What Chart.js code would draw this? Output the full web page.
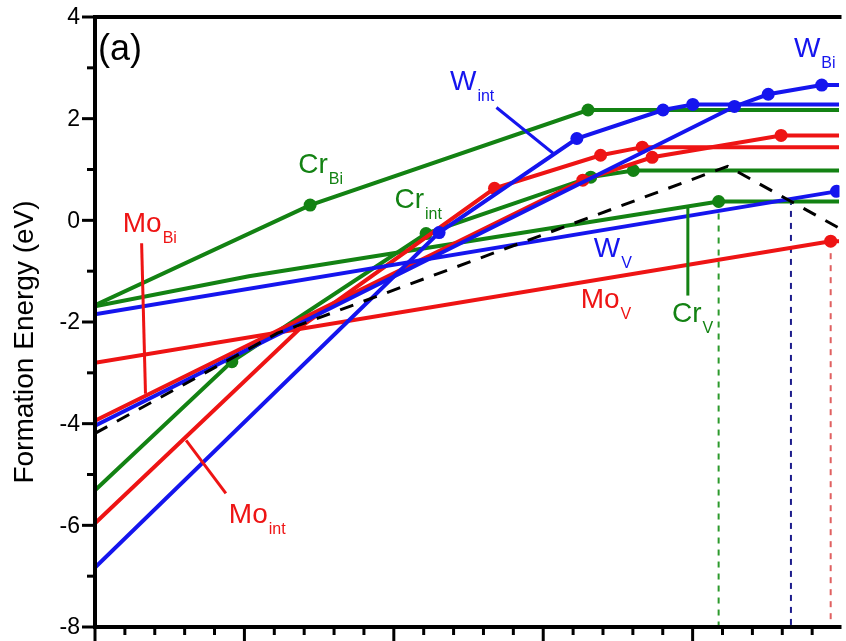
<!DOCTYPE html>
<html>
<head>
<meta charset="utf-8">
<script src="https://cdn.jsdelivr.net/npm/chart.js@4.4.1/dist/chart.umd.min.js"></script>
<style>
  html, body { margin: 0; padding: 0; background: #fff; overflow: hidden; }
  #wrap { width: 846px; height: 641px; position: relative; }
  canvas { display: block; }
</style>
</head>
<body>
<div id="wrap"><canvas id="chart" width="846" height="641"></canvas></div>
<script>
// x is in major-tick units (the x tick labels are cropped off the figure)
const crBi  = [[0, -1.67], [1.44, 0.30], [3.30, 2.17], [4.98, 2.17]];
const crInt = [[0, -5.31], [0.916, -2.78], [2.216, -0.26], [3.318, 0.85], [3.603, 0.98], [4.98, 0.98]];
const crV   = [[0, -1.69], [1.03, -1.10], [4.174, 0.37], [4.98, 0.37]];
const moBi  = [[0, -3.94], [3.265, 0.79], [3.729, 1.24], [4.592, 1.67], [4.98, 1.67]];
const moInt = [[0, -5.96], [1.407, -2.03], [2.674, 0.63], [3.384, 1.28], [3.663, 1.44], [4.98, 1.44]];
const moV   = [[0, -2.80], [4.924, -0.41], [4.98, -0.41]];
const wBi   = [[0, -4.04], [4.28, 2.24], [4.506, 2.48], [4.864, 2.66], [4.98, 2.66]];
const wInt  = [[0, -6.83], [2.303, -0.24], [3.225, 1.61], [3.802, 2.17], [4.001, 2.28], [4.98, 2.28]];
const wV    = [[0, -1.85], [4.963, 0.57]];
const envelope = [[0, -4.19], [1.221, -2.22], [4.234, 1.063], [4.983, -0.157]];

// which points carry a dot
const crBiDots = [1, 2];
const crIntDots = [1, 2, 3, 4];
const crVDots = [2];
const moBiDots = [1, 2, 3];
const moIntDots = [2, 3, 4];
const moVDots = [1];
const wBiDots = [1, 2, 3];
const wIntDots = [1, 2, 3, 4];
const wVDots = [1];

const yMajor = [4, 2, 0, -2, -4, -6, -8];
const yMinor = [3, 1, -1, -3, -5, -7];
const xMajor = [0, 1, 2, 3, 4];
const xMinor = [0.2, 0.4, 0.6, 0.8, 1.2, 1.4, 1.6, 1.8, 2.2, 2.4, 2.6, 2.8, 3.2, 3.4, 3.6, 3.8, 4.2, 4.4, 4.6, 4.8];

const GREEN = '#138213';
const RED = '#ee1414';
const BLUE = '#1515ee';
const FONT = '"Liberation Sans", Arial, sans-serif';

function pts(arr) {
    return arr.map(p => ({ x: p[0], y: p[1] }));
}

function series(arr, dots, color, order) {
    return {
        data: pts(arr),
        showLine: true,
        borderColor: color,
        backgroundColor: color,
        borderWidth: 4,
        pointRadius: ctx => dots.includes(ctx.dataIndex) ? 6.5 : 0,
        pointHoverRadius: 0,
        pointBorderWidth: 0,
        tension: 0,
        order: order
    };
}

// drop lines from the vacancy transition points down to the axis
function dropLine(p, color) {
    return {
        data: [{ x: p[0], y: p[1] }, { x: p[0], y: -8 }],
        showLine: true,
        borderColor: color,
        borderWidth: 2,
        borderDash: [6, 6],
        pointRadius: 0,
        order: 6
    };
}

// the W_V line crosses the Cr_V plateau here
const wVCross = [4.658, wV[0][1] + (wV[1][1] - wV[0][1]) * 4.658 / wV[1][0]];

// label annotations: main text, subscript, colour, data position of text start
const labelNames = [
    ['Cr', 'Bi', GREEN, 1.360, 0.925],
    ['W', 'int', BLUE, 2.376, 2.559],
    ['W', 'Bi', BLUE, 4.678, 3.209],
    ['Mo', 'Bi', RED, 0.186, -0.236],
    ['Cr', 'int', GREEN, 2.004, 0.236],
    ['W', 'V', BLUE, 3.338, -0.728],
    ['Mo', 'V', RED, 3.251, -1.732],
    ['Cr', 'V', GREEN, 3.862, -2.008],
    ['Mo', 'int', RED, 0.896, -5.945]
];
// leader lines from labels to curves
const leaders = [
    [RED, 0.312, -0.45, 0.338, -3.41],
    [RED, 0.610, -4.33, 0.876, -5.37],
    [BLUE, 2.687, 2.22, 3.066, 1.32],
    [GREEN, 3.968, 0.26, 3.968, -1.48]
];

const decor = {
    id: 'decor',
    afterDatasetsDraw(chart) {
        const c = chart.ctx;
        const xs = chart.scales.x, ys = chart.scales.y;
        const a = chart.chartArea;
        c.save();

        // leader lines
        c.lineWidth = 3;
        leaders.forEach(l => {
            c.strokeStyle = l[0];
            c.beginPath();
            c.moveTo(xs.getPixelForValue(l[1]), ys.getPixelForValue(l[2]));
            c.lineTo(xs.getPixelForValue(l[3]), ys.getPixelForValue(l[4]));
            c.stroke();
        });

        // labels with subscripts
        c.textBaseline = 'alphabetic';
        c.textAlign = 'left';
        labelNames.forEach(l => {
            const px = xs.getPixelForValue(l[3]);
            const py = ys.getPixelForValue(l[4]);
            c.fillStyle = l[2];
            c.font = '28px ' + FONT;
            c.fillText(l[0], px, py);
            const w = c.measureText(l[0]).width;
            c.font = '16px ' + FONT;
            c.fillText(l[1], px + w + 1, py + 11);
        });

        // frame
        c.strokeStyle = '#000';
        c.lineWidth = 4;
        c.beginPath();
        c.moveTo(a.right + 2, a.top);
        c.lineTo(a.left, a.top);
        c.lineTo(a.left, a.bottom);
        c.lineTo(a.right + 2, a.bottom);
        c.stroke();

        // ticks
        c.lineWidth = 3;
        yMajor.forEach(v => {
            const py = ys.getPixelForValue(v);
            c.beginPath(); c.moveTo(a.left - 13, py); c.lineTo(a.left, py); c.stroke();
        });
        yMinor.forEach(v => {
            const py = ys.getPixelForValue(v);
            c.beginPath(); c.moveTo(a.left - 8, py); c.lineTo(a.left, py); c.stroke();
        });
        xMajor.forEach(v => {
            const px = xs.getPixelForValue(v);
            c.beginPath(); c.moveTo(px, a.bottom); c.lineTo(px, a.bottom + 16); c.stroke();
        });
        xMinor.forEach(v => {
            const px = xs.getPixelForValue(v);
            c.beginPath(); c.moveTo(px, a.bottom); c.lineTo(px, a.bottom + 8); c.stroke();
        });

        // y tick labels
        c.fillStyle = '#000';
        c.font = '23px ' + FONT;
        c.textAlign = 'right';
        c.textBaseline = 'middle';
        yMajor.forEach(v => {
            c.fillText(String(v), a.left - 15, ys.getPixelForValue(v) + 1);
        });

        // axis title
        c.save();
        c.translate(33, (a.top + a.bottom) / 2 + 20);
        c.rotate(-Math.PI / 2);
        c.font = '28px ' + FONT;
        c.textAlign = 'center';
        c.textBaseline = 'alphabetic';
        c.fillText('Formation Energy (eV)', 0, 0);
        c.restore();

        // panel tag
        c.font = '36px ' + FONT;
        c.textAlign = 'left';
        c.textBaseline = 'alphabetic';
        c.fillText('(a)', a.left + 3, a.top + 43);

        c.restore();
    }
};

new Chart(document.getElementById('chart'), {
    type: 'scatter',
    data: {
        datasets: [
            {
                data: pts(envelope),
                showLine: true,
                borderColor: '#000',
                borderWidth: 3,
                borderDash: [14, 11],
                pointRadius: 0,
                order: 0
            },
            series(wBi, wBiDots, BLUE, 1),
            series(wInt, wIntDots, BLUE, 1),
            series(wV, wVDots, BLUE, 1),
            series(moBi, moBiDots, RED, 2),
            series(moInt, moIntDots, RED, 2),
            series(moV, moVDots, RED, 2),
            series(crBi, crBiDots, GREEN, 3),
            series(crInt, crIntDots, GREEN, 3),
            series(crV, crVDots, GREEN, 3),
            dropLine(crV[2], '#2c9a2c'),
            dropLine(wVCross, '#1c1c8c'),
            dropLine(moV[1], '#e06060')
        ]
    },
    options: {
        responsive: false,
        animation: false,
        layout: { padding: { left: 95, top: 17, right: 0, bottom: 14 } },
        plugins: {
            legend: { display: false },
            tooltip: { enabled: false }
        },
        scales: {
            x: { type: 'linear', min: 0, max: 4.983, display: false },
            y: { type: 'linear', min: -8, max: 4, display: false }
        }
    },
    plugins: [decor]
});
</script>
</body>
</html>
